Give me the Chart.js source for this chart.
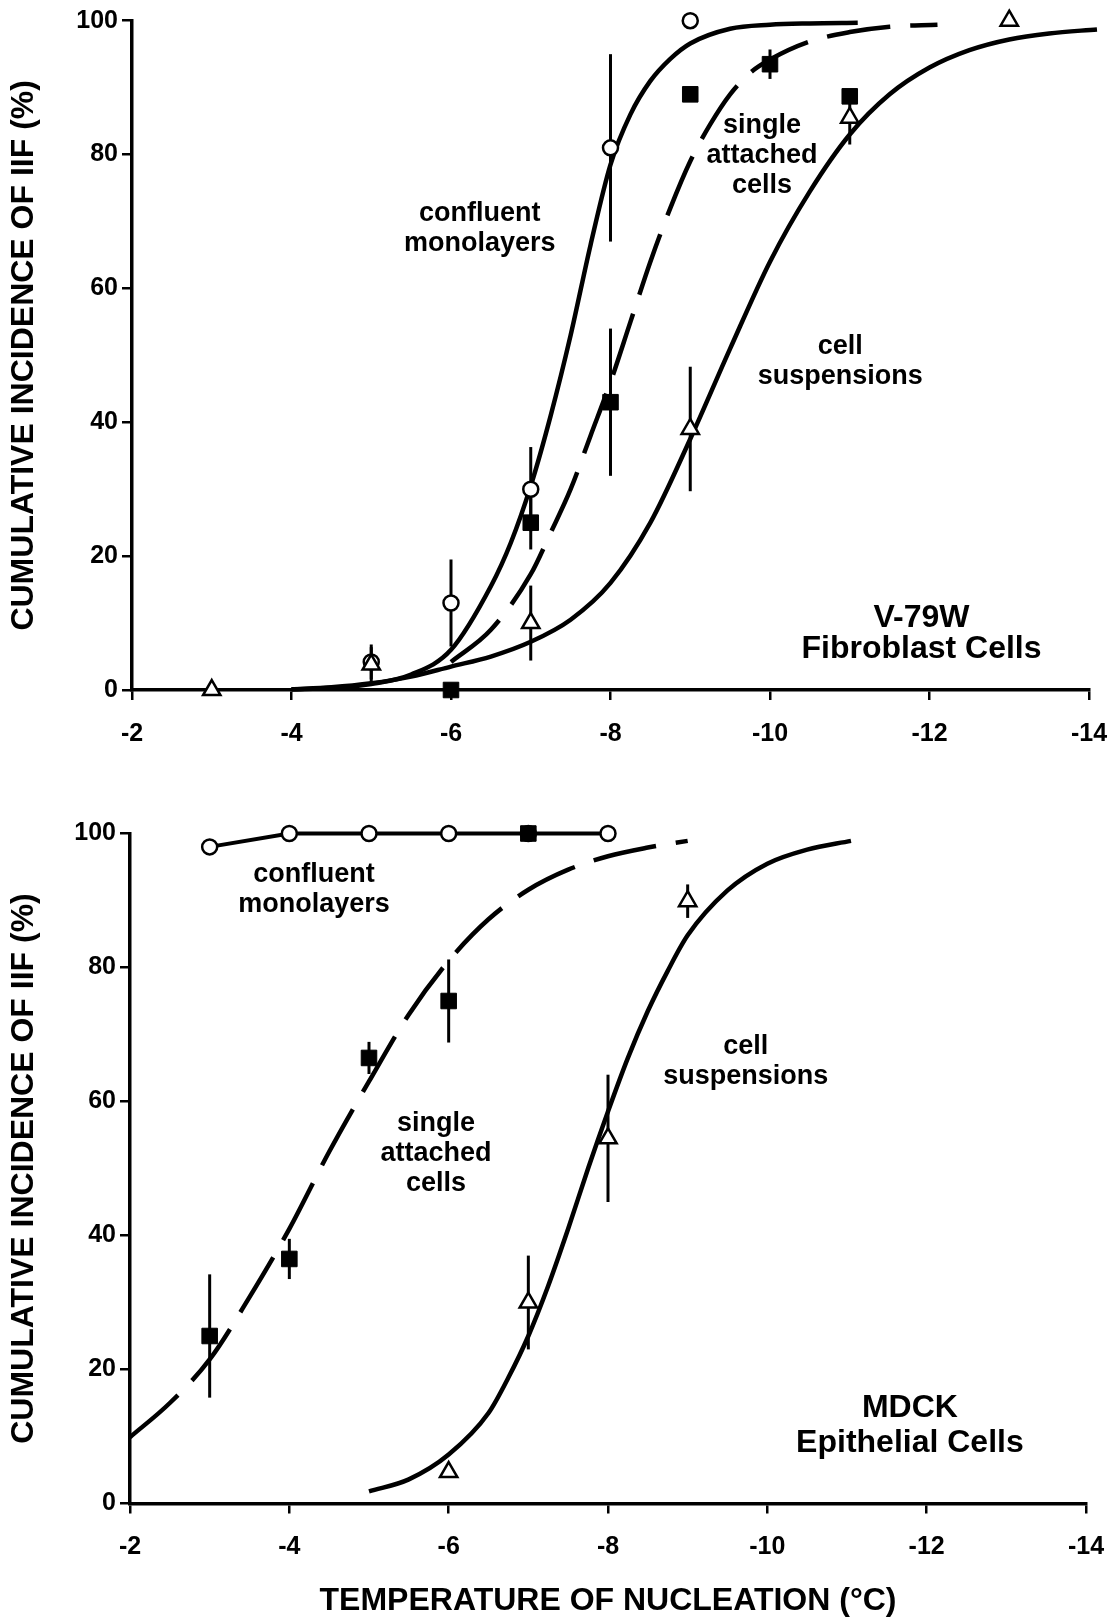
<!DOCTYPE html>
<html>
<head>
<meta charset="utf-8">
<script src="https://cdn.jsdelivr.net/npm/chart.js@4.4.1/dist/chart.umd.min.js"></script>
<style>
  html, body { margin: 0; padding: 0; background: #fff; }
  #wrap { position: relative; width: 1120px; height: 1621px; }
  canvas { position: absolute; left: 0; }
  #top { top: 0; }
  #bottom { top: 780px; }
</style>
</head>
<body>
<div id="wrap">
  <canvas id="top" width="1120" height="770"></canvas>
  <canvas id="bottom" width="1120" height="841"></canvas>
</div>
<script>
// tick labels
const tempTicks = [-2, -4, -6, -8, -10, -12, -14];
const pctTicks = [0, 20, 40, 60, 80, 100];
const yTitle = 'CUMULATIVE INCIDENCE OF IIF (%)';
const xTitle = 'TEMPERATURE OF NUCLEATION (°C)';

// --- V-79W fibroblast cells (top panel) ---
// measured points: temperature, incidence %, error half-width
const v79ConfT = [-5, -6, -7, -8, -9];
const v79ConfY = [4.2, 13, 30, 81, 100];
const v79ConfErr = [2.6, 6.5, 6.3, 14, 0];

const v79SingleT = [-6, -7, -8, -9, -10, -11];
const v79SingleY = [0, 25, 43, 89, 93.5, 88.7];
const v79SingleErr = [0, 4, 11, 0, 2.2, 0];

const v79SuspT = [-3, -5, -7, -9, -11, -13];
const v79SuspY = [0, 3.8, 10, 39, 85.5, 100];
const v79SuspErr = [0, 2.6, 5.6, 9.3, 4, 0];

// fitted curves
const v79ConfFitT = [-4, -4.5, -5, -5.5, -6, -6.5, -6.75, -7, -7.25, -7.5, -7.75, -8, -8.25, -8.5, -8.75, -9, -9.5, -10, -10.5, -11.1];
const v79ConfFitY = [0.1, 0.3, 0.9, 2.3, 6, 15.5, 22, 30.5, 41, 53, 66.5, 78.5, 86, 91, 94.3, 96.6, 98.8, 99.4, 99.6, 99.7];

const v79SingleFitT = [-6, -6.5, -7, -7.25, -7.5, -7.75, -8, -8.25, -8.5, -8.75, -9, -9.25, -9.5, -9.75, -10, -10.5, -11, -11.5, -12.1];
const v79SingleFitY = [4.2, 9, 17.3, 23.5, 30, 38, 46, 55, 64, 72, 79, 84.5, 89, 92.2, 94.2, 96.9, 98.3, 99.1, 99.4];

const v79SuspFitT = [-4, -4.5, -5, -5.5, -6, -6.5, -7, -7.5, -8, -8.5, -9, -9.5, -10, -10.5, -11, -11.5, -12, -12.5, -13, -13.5, -14.1];
const v79SuspFitY = [0.1, 0.4, 1.0, 2.0, 3.5, 5.0, 7.2, 10.5, 16, 25, 37.5, 51, 64, 74.5, 83, 89, 93, 95.6, 97.2, 98.1, 98.7];

// --- MDCK epithelial cells (bottom panel) ---
const mdckConfT = [-3, -4, -5, -6, -7, -8];
const mdckConfY = [98, 100, 100, 100, 100, 100];

const mdckSingleT = [-3, -4, -5, -6, -7];
const mdckSingleY = [25, 36.5, 66.5, 75, 100];
const mdckSingleErr = [9.2, 3, 2.4, 6.2, 0];

const mdckSuspT = [-6, -7, -8, -9];
const mdckSuspY = [4.7, 30, 54.5, 89.9];
const mdckSuspErr = [0.6, 7, 9.5, 2.5];

const mdckSingleFitT = [-2, -2.5, -3, -3.5, -4, -4.5, -5, -5.5, -6, -6.5, -7, -7.5, -8, -8.5, -9];
const mdckSingleFitY = [9.9, 15, 21.5, 30.8, 41, 52.5, 63, 73, 81, 87.2, 91.6, 94.6, 96.6, 97.9, 98.9];

const mdckSuspFitT = [-5, -5.5, -6, -6.5, -6.75, -7, -7.25, -7.5, -7.75, -8, -8.25, -8.5, -8.75, -9, -9.5, -10, -10.5, -11.05];
const mdckSuspFitY = [1.8, 3.6, 7.3, 13.5, 18.8, 25, 32.5, 41, 50, 58.5, 66.5, 73.5, 79.5, 84.8, 91.5, 95.5, 97.6, 98.9];

const FONT = '"Liberation Sans", Arial, Helvetica, sans-serif';
Chart.defaults.font.family = FONT;
Chart.defaults.color = '#000';

const pts = (T, Y) => T.map((t, i) => ({ x: t, y: Y[i] }));

const fit = (T, Y, dash) => ({
  data: pts(T, Y), showLine: true, pointRadius: 0, borderColor: '#000',
  borderWidth: 4.5, borderDash: dash || [], cubicInterpolationMode: 'monotone',
  fill: false, clip: false, order: 5
});
const circles = (T, Y, err) => ({
  data: pts(T, Y), errors: err, showLine: false, pointStyle: 'circle', pointRadius: 7.5,
  pointBackgroundColor: '#fff', pointBorderColor: '#000', pointBorderWidth: 2.5, clip: false, order: 2
});
const squares = (T, Y, err) => ({
  data: pts(T, Y), errors: err, showLine: false, pointStyle: 'rect', pointRadius: 11,
  pointBackgroundColor: '#000', pointBorderColor: '#000', pointBorderWidth: 1, clip: false, order: 0
});
const triangles = (T, Y, err) => ({
  data: pts(T, Y), errors: err, showLine: false, pointStyle: 'triangle', pointRadius: 10,
  pointBackgroundColor: '#fff', pointBorderColor: '#000', pointBorderWidth: 2.5, clip: false, order: 1
});

// vertical error bars, drawn under the markers
const errorBars = {
  id: 'errorBars',
  beforeDatasetsDraw(chart) {
    const { ctx, scales: { x, y } } = chart;
    ctx.save();
    ctx.strokeStyle = '#000';
    ctx.lineWidth = 3;
    chart.data.datasets.forEach(ds => {
      if (!ds.errors) return;
      ds.data.forEach((p, j) => {
        const e = ds.errors[j];
        if (!e) return;
        const px = x.getPixelForValue(p.x);
        ctx.beginPath();
        ctx.moveTo(px, y.getPixelForValue(p.y - e));
        ctx.lineTo(px, y.getPixelForValue(p.y + e));
        ctx.stroke();
      });
    });
    ctx.restore();
  }
};

// text labels placed in data coordinates
function notes(items) {
  return {
    id: 'notes',
    afterDatasetsDraw(chart) {
      const { ctx, scales: { x, y } } = chart;
      ctx.save();
      ctx.fillStyle = '#000';
      ctx.textAlign = 'center';
      ctx.textBaseline = 'middle';
      items.forEach(n => {
        ctx.font = `bold ${n.size}px ${FONT}`;
        const cx = x.getPixelForValue(n.t), cy = y.getPixelForValue(n.v);
        const y0 = cy - (n.lines.length - 1) * n.gap / 2;
        n.lines.forEach((s, i) => ctx.fillText(s, cx, y0 + i * n.gap));
      });
      ctx.restore();
    }
  };
}

function makeChart(id, datasets, labels, area, withXTitle) {
  const cv = document.getElementById(id);
  const W = cv.width, H = cv.height;
  const axisGrid = { drawOnChartArea: false, drawTicks: true, tickLength: 10, color: '#000', lineWidth: 2.5 };
  const axisBorder = { display: true, color: '#000', width: 3.5 };
  return new Chart(cv, {
    type: 'scatter',
    data: { datasets },
    options: {
      responsive: false, animation: false, events: [],
      layout: { padding: { left: 0, top: area.top, right: W - area.right, bottom: 0 } },
      plugins: { legend: { display: false }, tooltip: { enabled: false } },
      scales: {
        x: {
          type: 'linear', min: -14, max: -2, reverse: true,
          grid: axisGrid, border: axisBorder,
          afterBuildTicks: s => { s.ticks = [...tempTicks].sort((a, b) => a - b).map(v => ({ value: v })); },
          afterFit: s => { s.height = H - area.bottom; },
          ticks: { autoSkip: false, maxRotation: 0, padding: 19, font: { size: 25, weight: 'bold' }, callback: v => String(v) },
          title: { display: withXTitle, text: xTitle, font: { size: 32, weight: 'bold' }, padding: { top: 0, bottom: 1 } }
        },
        y: {
          type: 'linear', min: 0, max: 100,
          grid: axisGrid, border: axisBorder,
          afterBuildTicks: s => { s.ticks = pctTicks.map(v => ({ value: v })); },
          afterFit: s => { s.width = area.left; },
          ticks: { autoSkip: false, padding: 4, font: { size: 25, weight: 'bold' }, callback: v => String(v) },
          title: { display: true, text: yTitle, font: { size: 32, weight: 'bold' }, padding: { top: 5, bottom: 0 } }
        }
      }
    },
    plugins: [errorBars, notes(labels)]
  });
}

makeChart('top', [
  squares(v79SingleT, v79SingleY, v79SingleErr),
  triangles(v79SuspT, v79SuspY, v79SuspErr),
  circles(v79ConfT, v79ConfY, v79ConfErr),
  fit(v79ConfFitT, v79ConfFitY),
  fit(v79SingleFitT, v79SingleFitY, [64, 20]),
  fit(v79SuspFitT, v79SuspFitY)
], [
  { lines: ['confluent', 'monolayers'], t: -6.36, v: 69.0, size: 27, gap: 30 },
  { lines: ['single', 'attached', 'cells'], t: -9.9, v: 79.8, size: 27, gap: 30 },
  { lines: ['cell', 'suspensions'], t: -10.88, v: 49.0, size: 27, gap: 30 },
  { lines: ['V-79W', 'Fibroblast Cells'], t: -11.9, v: 8.4, size: 32, gap: 31 }
], { left: 132, top: 20.7, right: 1089, bottom: 690 }, false);

const mdckConf = circles(mdckConfT, mdckConfY, null);
mdckConf.showLine = true;
mdckConf.borderColor = '#000';
mdckConf.borderWidth = 4;

makeChart('bottom', [
  squares(mdckSingleT, mdckSingleY, mdckSingleErr),
  triangles(mdckSuspT, mdckSuspY, mdckSuspErr),
  mdckConf,
  fit(mdckSingleFitT, mdckSingleFitY, [64, 20]),
  fit(mdckSuspFitT, mdckSuspFitY)
], [
  { lines: ['confluent', 'monolayers'], t: -4.31, v: 91.7, size: 27, gap: 30 },
  { lines: ['single', 'attached', 'cells'], t: -5.84, v: 52.2, size: 27, gap: 30 },
  { lines: ['cell', 'suspensions'], t: -9.73, v: 66.0, size: 27, gap: 30 },
  { lines: ['MDCK', 'Epithelial Cells'], t: -11.79, v: 11.6, size: 32, gap: 35 }
], { left: 130, top: 53.5, right: 1086, bottom: 723.5 }, true);
</script>
</body>
</html>
